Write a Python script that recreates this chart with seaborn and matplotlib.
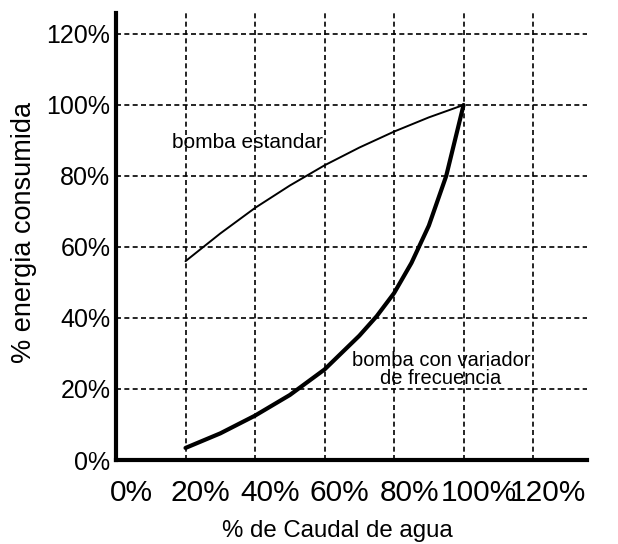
#!/usr/bin/env python3
import pandas as pd
import matplotlib
matplotlib.use("Agg")
import matplotlib.pyplot as plt
import matplotlib.transforms as mtransforms
import seaborn as sns

# % de caudal vs % energia
caudal_std = [20, 30, 40, 50, 60, 70, 80, 90, 100]
energia_std = [56, 63.8, 71, 77.3, 83, 88, 92.5, 96.5, 100]

caudal_var = [20, 30, 40, 50, 60, 70, 75, 80, 85, 90, 95, 100]
energia_var = [3.4, 7.5, 12.5, 18.3, 25.5, 35, 40.5, 47, 55.5, 66, 80, 100]

x_ticks = [0, 20, 40, 60, 80, 100, 120]
y_ticks = [0, 20, 40, 60, 80, 100, 120]


def plot_energia():
    sns.set_style("white")
    plt.rcParams["font.family"] = ["Liberation Sans", "DejaVu Sans"]
    plt.rcParams["text.color"] = "black"
    plt.rcParams["axes.labelcolor"] = "black"
    plt.rcParams["xtick.color"] = "black"
    plt.rcParams["ytick.color"] = "black"

    df_std = pd.DataFrame({"caudal": caudal_std, "energia": energia_std})
    df_var = pd.DataFrame({"caudal": caudal_var, "energia": energia_var})

    fig = plt.figure(figsize=(6.18, 5.44), dpi=100)
    ax = fig.add_axes([0.1877, 0.1544, 0.7621, 0.8217])

    sns.lineplot(data=df_std, x="caudal", y="energia", color="black",
                 linewidth=1.4, ax=ax, zorder=3)
    sns.lineplot(data=df_var, x="caudal", y="energia", color="black",
                 linewidth=3.0, ax=ax, zorder=3)

    ax.set_xlim(0, 135.5)
    ax.set_ylim(0, 125.9)
    ax.set_xticks(x_ticks)
    ax.set_yticks(y_ticks)
    ax.set_xticklabels([f"{v}%" for v in x_ticks], fontsize=21.5)
    ax.set_yticklabels([f"{v}%" for v in y_ticks], fontsize=18)
    ax.tick_params(axis="both", length=0)
    ax.tick_params(axis="x", pad=14)
    ax.tick_params(axis="y", pad=4)

    # labels sit a bit to the right of the gridlines in the original
    shift = mtransforms.ScaledTranslation(0.15, 0, fig.dpi_scale_trans)
    for lbl in ax.get_xticklabels():
        lbl.set_transform(lbl.get_transform() + shift)

    ax.grid(True, color="black", linestyle=(0, (3, 2)), linewidth=1.2)
    ax.set_axisbelow(True)

    for side in ["top", "right"]:
        ax.spines[side].set_visible(False)
    for side in ["left", "bottom"]:
        ax.spines[side].set_linewidth(3)
        ax.spines[side].set_color("black")
        ax.spines[side].set_zorder(4)

    ax.set_ylabel("% energia consumida", fontsize=19.5)
    ax.yaxis.set_label_coords(-0.168, 0.51)
    ax.set_xlabel("% de Caudal de agua", fontsize=17.3)
    ax.xaxis.set_label_coords(0.47, -0.135)

    ax.text(37.8, 89.3, "bomba estandar", fontsize=15,
            ha="center", va="center", zorder=5)
    ax.text(93.5, 25.5, "bomba con variador\nde frecuencia", fontsize=14.5,
            ha="center", va="center", linespacing=0.95, zorder=5)

    fig.savefig("out.png", dpi=100)
    print("Saved out.png", flush=True)


if __name__ == "__main__":
    plot_energia()
